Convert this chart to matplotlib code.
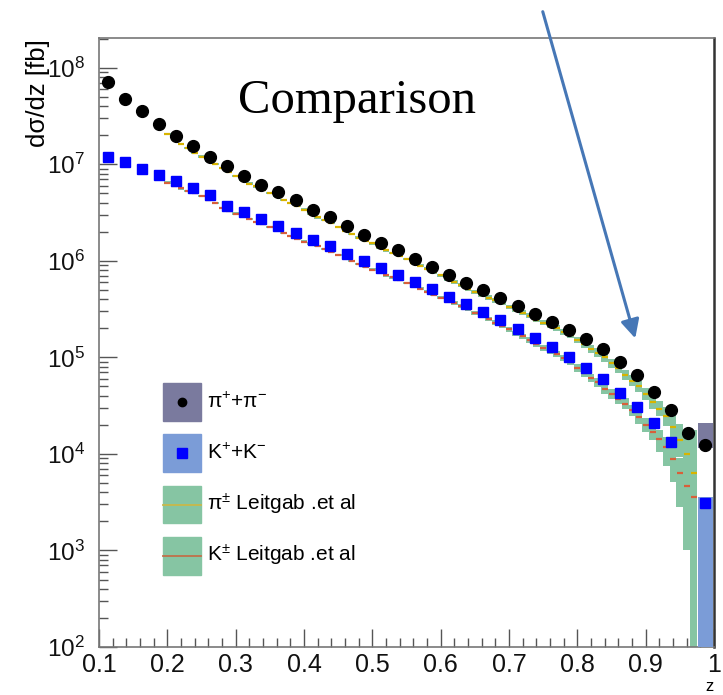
import numpy as np
import matplotlib.pyplot as plt
from matplotlib.patches import Rectangle

plt.rcParams['font.family'] = ['Liberation Sans', 'DejaVu Sans']
plt.rcParams['mathtext.fontset'] = 'custom'
plt.rcParams['mathtext.rm'] = 'Liberation Sans'
plt.rcParams['mathtext.it'] = 'Liberation Sans:italic'

# measured cross sections, z bins of width 0.025 from 0.1 to 1.0
z_edges = np.linspace(0.1, 1.0, 37)
pi_data = [7.05e7, 4.74e7, 3.52e7, 2.63e7, 1.97e7, 1.53e7, 1.19e7, 9.49e6, 7.60e6, 6.13e6,
           5.10e6, 4.22e6, 3.38e6, 2.81e6, 2.27e6, 1.86e6, 1.53e6, 1.30e6, 1.05e6, 8.73e5,
           7.16e5, 5.92e5, 4.95e5, 4.10e5, 3.42e5, 2.82e5, 2.35e5, 1.93e5, 1.54e5, 1.22e5,
           8.98e4, 6.59e4, 4.42e4, 2.86e4, 1.64e4, 1.24e4]
k_data = [1.18e7, 1.05e7, 8.98e6, 7.78e6, 6.64e6, 5.67e6, 4.75e6, 3.74e6, 3.17e6, 2.70e6,
          2.32e6, 1.95e6, 1.65e6, 1.41e6, 1.18e6, 1.00e6, 8.40e5, 7.16e5, 6.01e5, 5.09e5,
          4.27e5, 3.58e5, 2.98e5, 2.45e5, 1.97e5, 1.58e5, 1.28e5, 1.02e5, 7.84e4, 5.98e4,
          4.29e4, 3.09e4, 2.08e4, 1.34e4, np.nan, 3.08e3]
# error boxes that show in the last bin (low, high)
pi_last_box = (1.15e4, 2.09e4)
k_last_box = (50, 3.6e3)

# Leitgab et al. theory, points every 0.01 from z=0.20 to 0.97 (log10 of dsigma/dz)
z_theory = np.round(np.arange(0.20, 0.975, 0.01), 2)
pi_theory_log10 = [7.31, 7.26, 7.21, 7.17, 7.12, 7.08, 7.04, 7.00, 6.96, 6.92,
                   6.88, 6.84, 6.80, 6.77, 6.73, 6.70, 6.67, 6.63, 6.60, 6.57,
                   6.53, 6.49, 6.45, 6.42, 6.39, 6.35, 6.31, 6.28, 6.24, 6.21,
                   6.18, 6.14, 6.11, 6.08, 6.05, 6.02, 5.98, 5.95, 5.92, 5.88,
                   5.85, 5.81, 5.78, 5.75, 5.71, 5.68, 5.65, 5.62, 5.59, 5.56,
                   5.52, 5.49, 5.46, 5.43, 5.39, 5.36, 5.33, 5.30, 5.26, 5.23,
                   5.18, 5.14, 5.09, 5.05, 5.00, 4.94, 4.89, 4.82, 4.76, 4.70,
                   4.62, 4.54, 4.47, 4.39, 4.28, 4.14, 4.00, 3.80]
k_theory_log10 = [6.81, 6.78, 6.75, 6.72, 6.70, 6.67, 6.63, 6.60, 6.55, 6.52,
                  6.49, 6.46, 6.43, 6.40, 6.38, 6.35, 6.32, 6.29, 6.26, 6.23,
                  6.20, 6.18, 6.15, 6.12, 6.09, 6.06, 6.03, 6.00, 5.97, 5.94,
                  5.91, 5.88, 5.85, 5.83, 5.80, 5.77, 5.74, 5.71, 5.68, 5.65,
                  5.62, 5.59, 5.56, 5.53, 5.50, 5.46, 5.43, 5.40, 5.36, 5.33,
                  5.29, 5.25, 5.22, 5.18, 5.14, 5.10, 5.07, 5.03, 4.99, 4.95,
                  4.89, 4.84, 4.79, 4.74, 4.67, 4.62, 4.57, 4.52, 4.45, 4.38,
                  4.30, 4.23, 4.15, 4.07, 3.95, 3.80, 3.67, 3.55]
# band half widths in dex
pi_band = [0.012, 0.012, 0.012, 0.012, 0.012, 0.012, 0.012, 0.012, 0.012, 0.012,
           0.012, 0.012, 0.012, 0.012, 0.012, 0.012, 0.012, 0.012, 0.012, 0.012,
           0.012, 0.012, 0.012, 0.012, 0.012, 0.012, 0.012, 0.012, 0.012, 0.012,
           0.014, 0.014, 0.014, 0.014, 0.014, 0.014, 0.015, 0.015, 0.016, 0.016,
           0.018, 0.018, 0.019, 0.019, 0.020, 0.020, 0.021, 0.021, 0.022, 0.022,
           0.024, 0.025, 0.026, 0.027, 0.028, 0.029, 0.030, 0.031, 0.032, 0.034,
           0.036, 0.038, 0.040, 0.042, 0.045, 0.048, 0.050, 0.053, 0.056, 0.060,
           0.065, 0.070, 0.080, 0.100, 0.130, 0.170, 0.250, 0.450]
k_band_up = [0.012, 0.012, 0.012, 0.012, 0.012, 0.012, 0.012, 0.012, 0.012, 0.012,
             0.012, 0.012, 0.012, 0.012, 0.012, 0.012, 0.012, 0.012, 0.012, 0.012,
             0.012, 0.012, 0.012, 0.012, 0.012, 0.012, 0.012, 0.012, 0.012, 0.012,
             0.014, 0.014, 0.014, 0.014, 0.014, 0.014, 0.015, 0.015, 0.016, 0.016,
             0.018, 0.018, 0.019, 0.019, 0.020, 0.020, 0.021, 0.021, 0.022, 0.022,
             0.024, 0.025, 0.026, 0.027, 0.028, 0.029, 0.030, 0.031, 0.032, 0.034,
             0.038, 0.040, 0.043, 0.046, 0.050, 0.052, 0.055, 0.058, 0.060, 0.065,
             0.070, 0.080, 0.095, 0.110, 0.130, 0.160, 0.200, 0.300]
k_band_dn = [0.012, 0.012, 0.012, 0.012, 0.012, 0.012, 0.012, 0.012, 0.012, 0.012,
             0.012, 0.012, 0.012, 0.012, 0.012, 0.012, 0.012, 0.012, 0.012, 0.012,
             0.012, 0.012, 0.012, 0.012, 0.012, 0.012, 0.012, 0.012, 0.012, 0.012,
             0.014, 0.014, 0.014, 0.014, 0.014, 0.014, 0.015, 0.015, 0.016, 0.016,
             0.018, 0.018, 0.019, 0.019, 0.020, 0.020, 0.021, 0.021, 0.022, 0.022,
             0.024, 0.025, 0.026, 0.027, 0.028, 0.029, 0.030, 0.031, 0.032, 0.034,
             0.038, 0.040, 0.043, 0.046, 0.050, 0.052, 0.055, 0.058, 0.060, 0.065,
             0.070, 0.090, 0.130, 0.200, 0.240, 0.350, 0.670, 2.500]

xtick_labels = ['0.1', '0.2', '0.3', '0.4', '0.5', '0.6', '0.7', '0.8', '0.9', '1']
ytick_values = [1e2, 1e3, 1e4, 1e5, 1e6, 1e7, 1e8]
legend_labels = ['π$^{+}$+π$^{-}$', 'K$^{+}$+K$^{-}$',
                 'π$^{\\pm}$ Leitgab .et al', 'K$^{\\pm}$ Leitgab .et al']

green = '#86c5a3'
purple = '#7a7a9e'
lightblue = '#7b9cd7'
pi_line = '#d8b400'
k_line = '#d8603a'

fig = plt.figure(figsize=(7.23, 6.95), dpi=100)
ax = fig.add_axes([0.137, 0.069, 0.8506, 0.8763])

# theory bands
t_edges = np.append(z_theory - 0.005, z_theory[-1] + 0.005)
pi_c = np.array(pi_theory_log10)
k_c = np.array(k_theory_log10)
ax.stairs(10 ** (pi_c + np.array(pi_band)), t_edges, baseline=10 ** (pi_c - np.array(pi_band)),
          fill=True, color=green, lw=0, zorder=2)
ax.stairs(10 ** (k_c + np.array(k_band_up)), t_edges, baseline=10 ** (k_c - np.array(k_band_dn)),
          fill=True, color=green, lw=0, zorder=2)
ax.plot(z_theory, 10 ** pi_c, ls='none', marker='_', ms=4, mew=1.6, color=pi_line, zorder=3)
ax.plot(z_theory, 10 ** k_c, ls='none', marker='_', ms=4, mew=1.6, color=k_line, zorder=3)

# data
z_mid = 0.5 * (z_edges[:-1] + z_edges[1:])
ax.bar(z_mid[-1], pi_last_box[1] - pi_last_box[0], bottom=pi_last_box[0], width=0.021,
       color=purple, zorder=3)
ax.bar(z_mid[-1], k_last_box[1] - k_last_box[0], bottom=k_last_box[0], width=0.021,
       color=lightblue, zorder=3)
ax.plot(z_mid, pi_data, ls='none', marker='o', ms=8.5, color='black', zorder=4)
ax.plot(z_mid, k_data, ls='none', marker='s', ms=7.5, color='#0000ff', zorder=4)

ax.set_yscale('log')
ax.set_xlim(0.1, 1.0)
ax.set_ylim(100, 2.03e8)
ax.set_yticks(ytick_values)
ax.set_xticks(np.linspace(0.1, 1.0, 10))
ax.set_xticklabels(xtick_labels)
ax.set_xticks(np.linspace(0.1, 1.0, 46), minor=True)
ax.tick_params(which='both', direction='in', colors='#555555', top=False, right=False)
ax.tick_params(which='major', length=13, width=1.0, labelcolor='#111111')
ax.tick_params(which='minor', length=6.5, width=1.0, labelleft=False, labelbottom=False)
ax.tick_params(axis='y', pad=10, labelsize=17.5)
ax.tick_params(axis='x', pad=4, labelsize=18)
for s in ax.spines.values():
    s.set_color('#777777')
    s.set_linewidth(1.2)
ax.spines['right'].set_color('#333333')
ax.spines['right'].set_linewidth(1.8)

# legend drawn in axes coordinates
box_bottoms = [0.371, 0.287, 0.203, 0.119]
box_colors = [purple, lightblue, green, green]
for i in range(4):
    ax.add_patch(Rectangle((0.104, box_bottoms[i]), 0.062, 0.062, transform=ax.transAxes,
                           color=box_colors[i], zorder=5))
    yc = box_bottoms[i] + 0.031
    ax.text(0.176, yc, legend_labels[i], transform=ax.transAxes, fontsize=15,
            ha='left', va='center', zorder=6)
ax.plot([0.135], [box_bottoms[0] + 0.031], 'o', ms=6, color='black', transform=ax.transAxes, zorder=6)
ax.plot([0.135], [box_bottoms[1] + 0.031], 's', ms=7.5, color='#0000ff', transform=ax.transAxes, zorder=6)
ax.plot([0.104, 0.166], [box_bottoms[2] + 0.031] * 2, color='#c8b84a', lw=1.3, transform=ax.transAxes, zorder=6)
ax.plot([0.104, 0.166], [box_bottoms[3] + 0.031] * 2, color='#c0704a', lw=1.3, transform=ax.transAxes, zorder=6)

fig.text(0.0526, 0.944, 'dσ/dz [fb]', rotation=90, ha='center', va='top', fontsize=18.5)
fig.text(710 / 723, 1 - 694 / 695, 'z', ha='center', va='bottom', fontsize=12)
fig.text(357 / 723, 1 - 101 / 695, 'Comparison', family='Liberation Serif',
         fontsize=35, ha='center', va='center')

# arrow pointing at the high-z region
ax.annotate('', xy=(636, 695 - 341), xytext=(542, 695 - 9), xycoords='figure pixels',
            textcoords='figure pixels', annotation_clip=False,
            arrowprops=dict(arrowstyle='-|>', color='#4677b6', lw=2.2, mutation_scale=28))

fig.savefig('out.png', dpi=100)
